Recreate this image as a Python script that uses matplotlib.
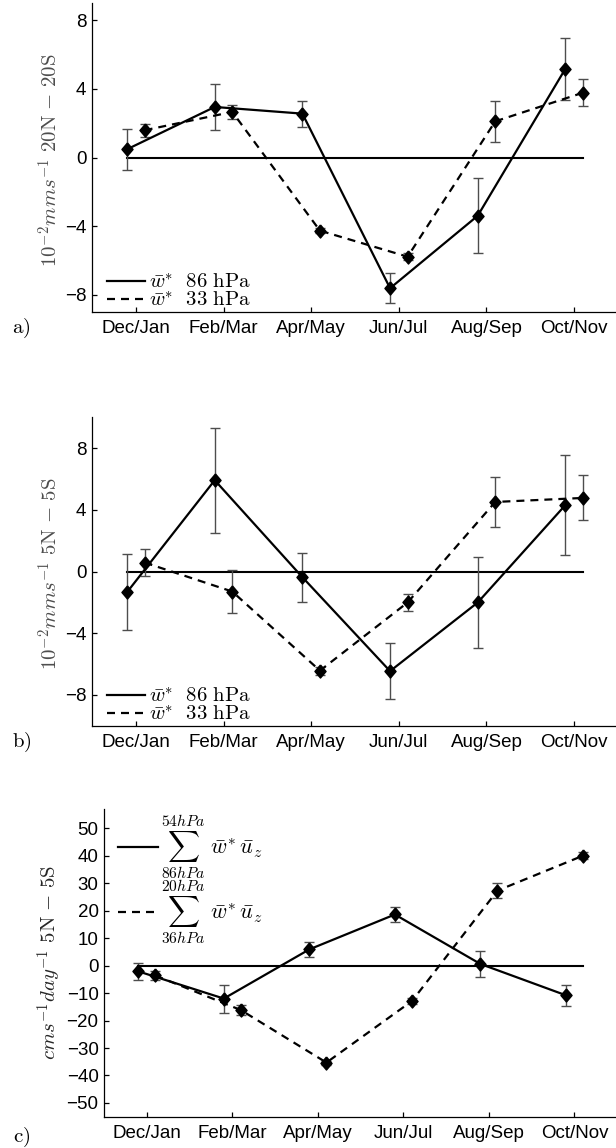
import numpy as np
import matplotlib
matplotlib.use("Agg")
import matplotlib.pyplot as plt

plt.rcParams['mathtext.fontset'] = 'cm'
plt.rcParams['font.family'] = ['Liberation Sans', 'DejaVu Sans']

# Bimonthly seasons
seasons = ['Dec/Jan', 'Feb/Mar', 'Apr/May', 'Jun/Jul', 'Aug/Sep', 'Oct/Nov']

# a) w* averaged 20N - 20S (10^-2 mm/s)
a_86 = [0.48, 2.95, 2.56, -7.63, -3.40, 5.18]
a_86_err = [1.20, 1.34, 0.76, 0.87, 2.18, 1.80]
a_33 = [1.59, 2.66, -4.27, -5.79, 2.11, 3.78]
a_33_err = [0.39, 0.41, 0.15, 0.20, 1.20, 0.80]

# b) w* averaged 5N - 5S (10^-2 mm/s)
b_86 = [-1.34, 5.92, -0.37, -6.46, -2.01, 4.31]
b_86_err = [2.47, 3.40, 1.60, 1.83, 2.93, 3.25]
b_33 = [0.58, -1.30, -6.43, -2.01, 4.51, 4.77]
b_33_err = [0.88, 1.40, 0.25, 0.52, 1.60, 1.46]

# c) vertical advection w* u_z summed over layers, 5N - 5S (cm/s/day)
c_low = [-2.1, -12.0, 5.9, 18.6, 0.6, -10.8]
c_low_err = [3.0, 5.1, 2.6, 2.6, 4.85, 3.8]
c_up = [-3.6, -16.2, -35.3, -12.9, 27.3, 40.0]
c_up_err = [1.6, 1.8, 0.7, 1.0, 2.7, 1.2]

W, H = 616, 1148
fig = plt.figure(figsize=(W / 100, H / 100), dpi=100)

x = np.arange(1, len(seasons) + 1)
shift = 0.1
diamond = [(0, 1), (0.85, 0), (0, -1), (-0.85, 0), (0, 1)]


def panel(rect, y1, e1, y2, e2, ylim, yticks, labels, legkw):
    ax = fig.add_axes(rect)
    x1 = x - shift
    x2 = x + shift
    ax.plot([x1[0], x2[-1]], [0, 0], color='k', lw=1.5, zorder=1)
    ax.errorbar(x1, y1, yerr=e1, fmt='none', ecolor='0.3', elinewidth=1,
                capsize=3.6, capthick=1, zorder=2)
    ax.errorbar(x2, y2, yerr=e2, fmt='none', ecolor='0.3', elinewidth=1,
                capsize=3.6, capthick=1, zorder=2)
    l1, = ax.plot(x1, y1, color='k', lw=1.6, zorder=3)
    l2, = ax.plot(x2, y2, color='k', lw=1.6, dashes=(3.6, 2.7), zorder=3)
    ax.plot(x1, y1, ls='none', marker=diamond, ms=9.4, color='k', zorder=4)
    ax.plot(x2, y2, ls='none', marker=diamond, ms=9.4, color='k', zorder=4)

    ax.set_xlim(0.5, 6.5)
    ax.set_ylim(*ylim)
    ax.set_xticks(x)
    ax.set_xticklabels(seasons)
    ax.set_yticks(yticks)
    for s in ['top', 'right']:
        ax.spines[s].set_visible(False)
    for s in ['left', 'bottom']:
        ax.spines[s].set_linewidth(0.9)
    ax.tick_params(direction='in', length=3.6, width=0.9, labelsize=13.5)
    ax.tick_params(axis='x', pad=6)
    ax.tick_params(axis='y', pad=4)

    ax.legend([l1, l2], labels, frameon=False, borderpad=0,
              borderaxespad=0, **legkw)
    return ax


w_labels = [r'$\bar{w}^{*}\ \ 86\ \mathrm{hPa}$',
            r'$\bar{w}^{*}\ \ 33\ \mathrm{hPa}$']
w_leg = dict(loc='lower left', bbox_to_anchor=(15 / 526, 0.005),
             fontsize=15, handlelength=1.8, handletextpad=0.22,
             labelspacing=-0.06)

# panel a
panel([92 / W, 1 - 311.7 / H, 526 / W, 308.4 / H],
      a_86, a_86_err, a_33, a_33_err, (-9, 9), [-8, -4, 0, 4, 8],
      w_labels, w_leg)

# panel b
panel([92 / W, 1 - 725.7 / H, 526 / W, 308.4 / H],
      b_86, b_86_err, b_33, b_33_err, (-10, 10), [-8, -4, 0, 4, 8],
      w_labels, w_leg)

# panel c
panel([104.1 / W, 1 - 1116.7 / H, 513.1 / W, 307.7 / H],
      c_low, c_low_err, c_up, c_up_err, (-55, 57), np.arange(-50, 51, 10),
      [r'$\sum_{86hPa}^{54hPa}\ \bar{w}^{*}\,\bar{u}_z$',
       r'$\sum_{36hPa}^{20hPa}\ \bar{w}^{*}\,\bar{u}_z$'],
      dict(loc='upper left', bbox_to_anchor=(14 / 513, 1 - 5 / 307.7),
           fontsize=16, handlelength=1.8, handletextpad=0.15,
           labelspacing=-0.1))

# y labels
fig.text(50 / W, 1 - 160 / H, r'$10^{-2}mms^{-1}\ \mathrm{20N}\ {-}\ \mathrm{20S}$',
         rotation=90, ha='center', va='center', fontsize=15, color='0.3')
fig.text(50 / W, 1 - 574 / H, r'$10^{-2}mms^{-1}\ \mathrm{5N}\ {-}\ \mathrm{5S}$',
         rotation=90, ha='center', va='center', fontsize=15, color='0.3')
fig.text(50 / W, 1 - 963 / H, r'$cms^{-1}day^{-1}\ \mathrm{5N}\ {-}\ \mathrm{5S}$',
         rotation=90, ha='center', va='center', fontsize=15, color='0.15')

# panel letters
fig.text(21.5 / W, 1 - 328 / H, r'$\mathrm{a)}$', ha='center', va='center', fontsize=15)
fig.text(21.5 / W, 1 - 742 / H, r'$\mathrm{b)}$', ha='center', va='center', fontsize=15)
fig.text(21.5 / W, 1 - 1137 / H, r'$\mathrm{c)}$', ha='center', va='center', fontsize=15)

fig.savefig('out.png', dpi=100)
